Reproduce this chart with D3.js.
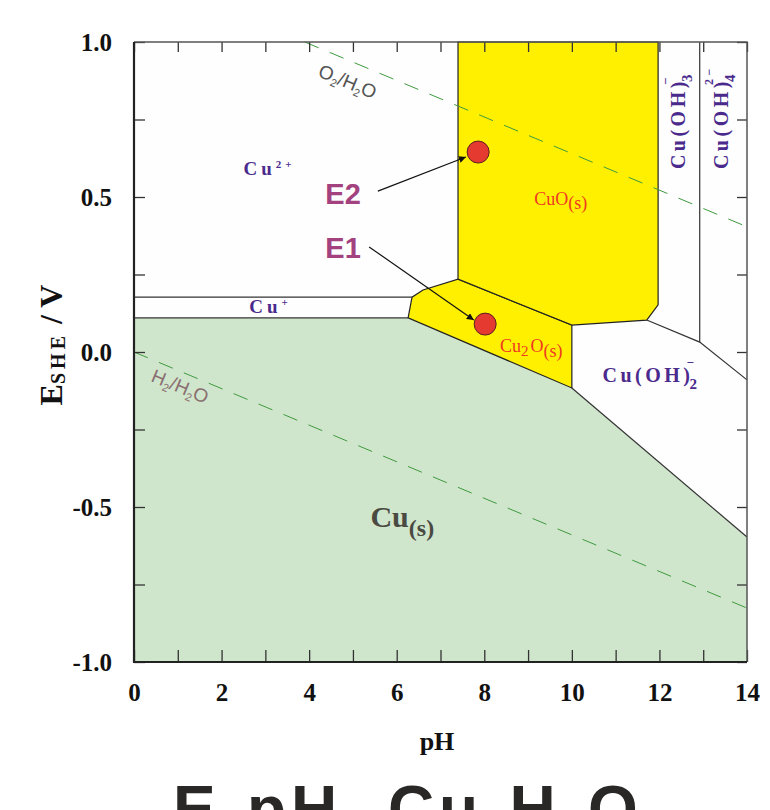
<!DOCTYPE html>
<html>
<head>
<meta charset="utf-8">
<script src="https://cdn.jsdelivr.net/npm/d3@7"></script>
<style>
  body { margin: 0; background: #fff; }
  svg { display: block; }
  .serif { font-family: "Liberation Serif", "Times New Roman", serif; }
  .sans { font-family: "Liberation Sans", Arial, sans-serif; }
</style>
</head>
<body>
<div id="chart"></div>
<script>
// Cu-H2O Pourbaix diagram (pH, E in V vs SHE)
const xTicks = d3.range(0, 15);
const xLabels = [0, 2, 4, 6, 8, 10, 12, 14];
const yTicks = [-1, -0.75, -0.5, -0.25, 0, 0.25, 0.5, 0.75, 1];
const yLabels = [-1, -0.5, 0, 0.5, 1];

const cuZone = [[0, -1], [0, 0.110], [6.26, 0.110], [10.0, -0.116], [14, -0.597], [14, -1]];
const cu2oZone = [[6.26, 0.110], [6.35, 0.177], [6.60, 0.200], [7.40, 0.235], [10.0, 0.087], [10.0, -0.116]];
const cuoZone = [[7.40, 1.0], [11.97, 1.0], [11.97, 0.152], [11.71, 0.103], [10.0, 0.087], [7.40, 0.235]];

const cu2CuPlus = [[0, 0.177], [6.35, 0.177]];
const cuPlusCu = [[0, 0.110], [6.26, 0.110]];
const cuOh2 = [[10.0, -0.116], [14, -0.597]];
const oh2Oh3 = [[11.71, 0.103], [12.92, 0.032], [14, -0.090]];
const oh3Oh4 = [[12.92, 1.0], [12.92, 0.032]];

const o2Water = [[3.9, 1.0], [14, 0.404]];
const h2Water = [[0, 0.0], [14, -0.826]];

const samples = [
  { name: "E2", pH: 7.86, E: 0.645, fromPH: 5.57, fromE: 0.519, toPH: 7.58, toE: 0.629, labelPH: 5.18, labelE: 0.477 },
  { name: "E1", pH: 8.02, E: 0.090, fromPH: 5.37, fromE: 0.339, toPH: 7.76, toE: 0.103, labelPH: 5.18, labelE: 0.303 }
];

const width = 770, height = 810;
const x = d3.scaleLinear().domain([0, 14]).range([134, 747]);
const y = d3.scaleLinear().domain([-1, 1]).range([662, 42]);

const svg = d3.select("#chart").append("svg")
  .attr("width", width).attr("height", height);

const defs = svg.append("defs");
defs.append("marker")
  .attr("id", "head")
  .attr("viewBox", "0 0 10 10")
  .attr("refX", 10).attr("refY", 5)
  .attr("markerWidth", 7).attr("markerHeight", 7)
  .attr("markerUnits", "userSpaceOnUse")
  .attr("orient", "auto")
  .append("path").attr("d", "M0,0L10,5L0,10Z").attr("fill", "#111");

const line = d3.line().x(d => x(d[0])).y(d => y(d[1]));

// zones
svg.append("rect").attr("x", x(0)).attr("y", y(1))
  .attr("width", x(14) - x(0)).attr("height", y(-1) - y(1)).attr("fill", "#fefefe");
svg.append("path").attr("d", line(cuZone) + "Z").attr("fill", "#d0e6cc");
svg.append("path").attr("d", line(cu2oZone) + "Z").attr("fill", "#fff000")
  .attr("stroke", "#222").attr("stroke-width", 1.2);
svg.append("path").attr("d", line(cuoZone) + "Z").attr("fill", "#fff000")
  .attr("stroke", "#222").attr("stroke-width", 1.2);

// boundaries
[cu2CuPlus, cuPlusCu, oh2Oh3, oh3Oh4, cuOh2].forEach(b => {
  svg.append("path").attr("d", line(b)).attr("fill", "none")
    .attr("stroke", "#333").attr("stroke-width", 1.2);
});

// water stability lines
[o2Water, h2Water].forEach(b => {
  svg.append("path").attr("d", line(b)).attr("fill", "none")
    .attr("stroke", "#3f9a3f").attr("stroke-width", 1)
    .attr("stroke-dasharray", "15,12");
});

// axes
const gBottom = svg.append("g").attr("transform", `translate(0,${y(-1)})`)
  .call(d3.axisBottom(x).tickValues(xTicks).tickSize(-12).tickPadding(21)
    .tickFormat(d => xLabels.includes(d) ? d : ""));
const gTop = svg.append("g").attr("transform", `translate(0,${y(1)})`)
  .call(d3.axisTop(x).tickValues(xTicks).tickSize(-10).tickFormat(""));
const gLeft = svg.append("g").attr("transform", `translate(${x(0)},0)`)
  .call(d3.axisLeft(y).tickValues(yTicks).tickSize(-11).tickPadding(22)
    .tickFormat(d => yLabels.includes(d) ? d.toFixed(1) : ""));
const gRight = svg.append("g").attr("transform", `translate(${x(14)},0)`)
  .call(d3.axisRight(y).tickValues(yTicks).tickSize(-10).tickFormat(""));

[gBottom, gTop, gLeft, gRight].forEach(g => {
  g.select(".domain").remove();
  g.selectAll(".tick line").attr("stroke", "#333").attr("stroke-width", 1.3);
  g.selectAll("text").attr("class", "serif")
    .attr("font-size", 25).attr("font-weight", "bold").attr("fill", "#111");
});

// frame
svg.append("path").attr("d", `M${x(0)},${y(1)}H${x(14)}V${y(-1)}`)
  .attr("fill", "none").attr("stroke", "#555").attr("stroke-width", 1.5);
svg.append("path").attr("d", `M${x(0)},${y(1)}V${y(-1)}H${x(14)}`)
  .attr("fill", "none").attr("stroke", "#222").attr("stroke-width", 2.2);

// axis titles
svg.append("text").attr("class", "serif")
  .attr("x", 437).attr("y", 750).attr("text-anchor", "middle")
  .attr("font-size", 26).attr("font-weight", "bold").attr("fill", "#111").text("pH");

const yt = svg.append("text").attr("class", "serif")
  .attr("transform", "translate(62,345) rotate(-90)")
  .attr("text-anchor", "middle").attr("font-weight", "bold").attr("fill", "#111");
yt.append("tspan").attr("font-size", 32).text("E");
yt.append("tspan").attr("font-size", 20).attr("dy", 3).attr("letter-spacing", 4).text("SHE");
yt.append("tspan").attr("font-size", 32).attr("dy", -3).text(" / V");

// species labels
const purple = "#4a2a8c";
function label(px, py, parts, opts) {
  const t = svg.append("text").attr("class", opts.cls || "serif")
    .attr("x", px).attr("y", py).attr("fill", opts.fill)
    .attr("font-size", opts.size).attr("font-weight", opts.weight || "normal")
    .attr("letter-spacing", opts.spacing || 0);
  if (opts.rotate) t.attr("transform", `rotate(${opts.rotate},${px},${py})`);
  parts.forEach(p => {
    t.append("tspan").attr("dy", p.dy || 0).attr("font-size", p.size || opts.size)
      .attr("dx", p.dx || 0).text(p.t);
  });
  return t;
}

label(x(2.5), y(0.57), [{ t: "Cu" }, { t: "2+", dy: -7, size: 11 }],
  { fill: purple, size: 19, weight: "bold", spacing: 4 });
label(x(2.63), y(0.125), [{ t: "Cu" }, { t: "+", dy: -7, size: 11 }],
  { fill: purple, size: 19, weight: "bold", spacing: 4 });
label(x(10.7), y(-0.098), [{ t: "Cu(OH)" }, { t: "2", dy: 7, size: 15, dx: -4 }, { t: "−", dy: -22, size: 13, dx: -14 }],
  { fill: purple, size: 20, weight: "bold", spacing: 3.5 });
label(x(12.58), y(0.59), [{ t: "Cu(OH)" }, { t: "3", dy: 7, size: 15, dx: -4 }, { t: "−", dy: -22, size: 13, dx: -14 }],
  { fill: purple, size: 20, weight: "bold", spacing: 3.5, rotate: -90 });
label(x(13.57), y(0.59), [{ t: "Cu(OH)" }, { t: "4", dy: 7, size: 15, dx: -4 }, { t: "2−", dy: -22, size: 12, dx: -14 }],
  { fill: purple, size: 20, weight: "bold", spacing: 3.5, rotate: -90 });

const red = "#ef3a22";
label(x(9.14), y(0.475), [{ t: "CuO" }, { t: "(s)", dy: 4 }],
  { fill: red, size: 18 });
label(x(8.36), y(0.0), [{ t: "Cu" }, { t: "2", dy: 4, size: 15 }, { t: "O", dy: -4, dx: 2 }, { t: "(s)", dy: 5 }],
  { fill: red, size: 18 });

label(x(5.4), y(-0.565), [{ t: "Cu" }, { t: "(s)", dy: 9, size: 24 }],
  { fill: "#4a4a42", size: 30, weight: "bold" });

// water line labels
label(317, 76, [{ t: "O" }, { t: "2", dy: 4, size: 11 }, { t: "/H", dy: -4 }, { t: "2", dy: 4, size: 11 }, { t: "O", dy: -4 }],
  { cls: "sans", fill: "#555", size: 19, rotate: 22.5 });
label(150, 381, [{ t: "H" }, { t: "2", dy: 4, size: 11 }, { t: "/H", dy: -4 }, { t: "2", dy: 4, size: 11 }, { t: "O", dy: -4 }],
  { cls: "sans", fill: "#8a7070", size: 19, rotate: 22.5 });

// sample points with arrows
samples.forEach(s => {
  svg.append("line")
    .attr("x1", x(s.fromPH)).attr("y1", y(s.fromE))
    .attr("x2", x(s.toPH)).attr("y2", y(s.toE))
    .attr("stroke", "#111").attr("stroke-width", 1.2)
    .attr("marker-end", "url(#head)");
  svg.append("circle").attr("cx", x(s.pH)).attr("cy", y(s.E)).attr("r", 11)
    .attr("fill", "#e53a30").attr("stroke", "#5a2020").attr("stroke-width", 1);
  svg.append("text").attr("class", "sans")
    .attr("x", x(s.labelPH)).attr("y", y(s.labelE))
    .attr("text-anchor", "end").attr("font-size", 29).attr("font-weight", "bold")
    .attr("fill", "#a3427f").text(s.name);
});

// caption (cut off at the bottom edge)
const cap = svg.append("text").attr("class", "sans")
  .attr("x", 173).attr("y", 831).attr("font-size", 64).attr("font-weight", "bold")
  .attr("letter-spacing", 5).attr("fill", "#2a2826");
cap.append("tspan").text("E-pH, Cu-H");
cap.append("tspan").attr("font-size", 40).attr("dy", 10).text("2");
cap.append("tspan").attr("dy", -10).text("O");
</script>
</body>
</html>
